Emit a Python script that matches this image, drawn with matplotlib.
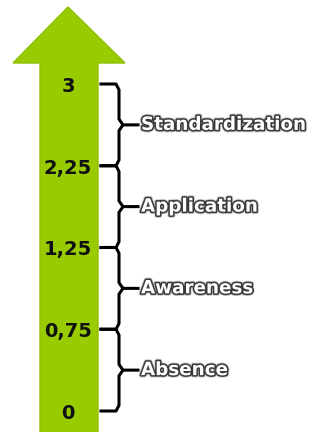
import matplotlib
matplotlib.use("Agg")
import matplotlib.pyplot as plt
import matplotlib.patheffects as pe
from matplotlib.patches import Polygon

# scale levels, bottom to top
tick_labels = ["0", "0,75", "1,25", "2,25", "3"]
stages = ["Absence", "Awareness", "Application", "Standardization"]

levels = list(range(len(tick_labels)))

fig = plt.figure(figsize=(3.13, 4.32), dpi=100)
ax = fig.add_axes([0, 0, 1, 1])
ax.set_xlim(0, 313)
# level 0 sits 21 px above the bottom, level 4 sits 84 px below the top
step = 327 / 4
ax.set_ylim(-21 / step, levels[-1] + 84 / step)
ax.axis("off")

# big green arrow
top = levels[-1]
head_base = top + 21 / step
tip = top + 77 / step
arrow = Polygon([(40, -1), (40, head_base), (13, head_base), (68, tip),
                 (125, head_base), (98, head_base), (98, -1)],
                closed=True, facecolor="#99cc00", edgecolor="#8fbf00", lw=1.0)
ax.add_patch(arrow)

# tick values inside the shaft
for y, lab in zip(levels, tick_labels):
    ax.text(68, y - 0.03, lab, ha="center", va="center", fontsize=14,
            fontweight="bold", color="#111111")

# curly brackets between levels with stage names
x0, xs, xt = 101, 119, 138
for i, name in enumerate(stages):
    y0, y1 = levels[i], levels[i + 1]
    ym = (y0 + y1) / 2
    r = 0.07
    ax.plot([x0, xs - 3, xs, xs, xs + 4, xt], [y0, y0, y0 + r, ym - r, ym, ym],
            color="black", lw=2.2, solid_joinstyle="round")
    ax.plot([x0, xs - 3, xs, xs, xs + 4], [y1, y1, y1 - r, ym + r, ym],
            color="black", lw=2.2, solid_joinstyle="round")
    t = ax.text(141, ym, name, ha="left", va="center", fontsize=13.2,
                fontweight="bold", color="white", family="DejaVu Sans")
    t.set_path_effects([pe.withStroke(linewidth=3.5, foreground="#999999", alpha=0.5),
                        pe.Stroke(linewidth=2.2, foreground="#3a3a3a"),
                        pe.Normal()])

fig.savefig("out.png", dpi=100, facecolor="white")
